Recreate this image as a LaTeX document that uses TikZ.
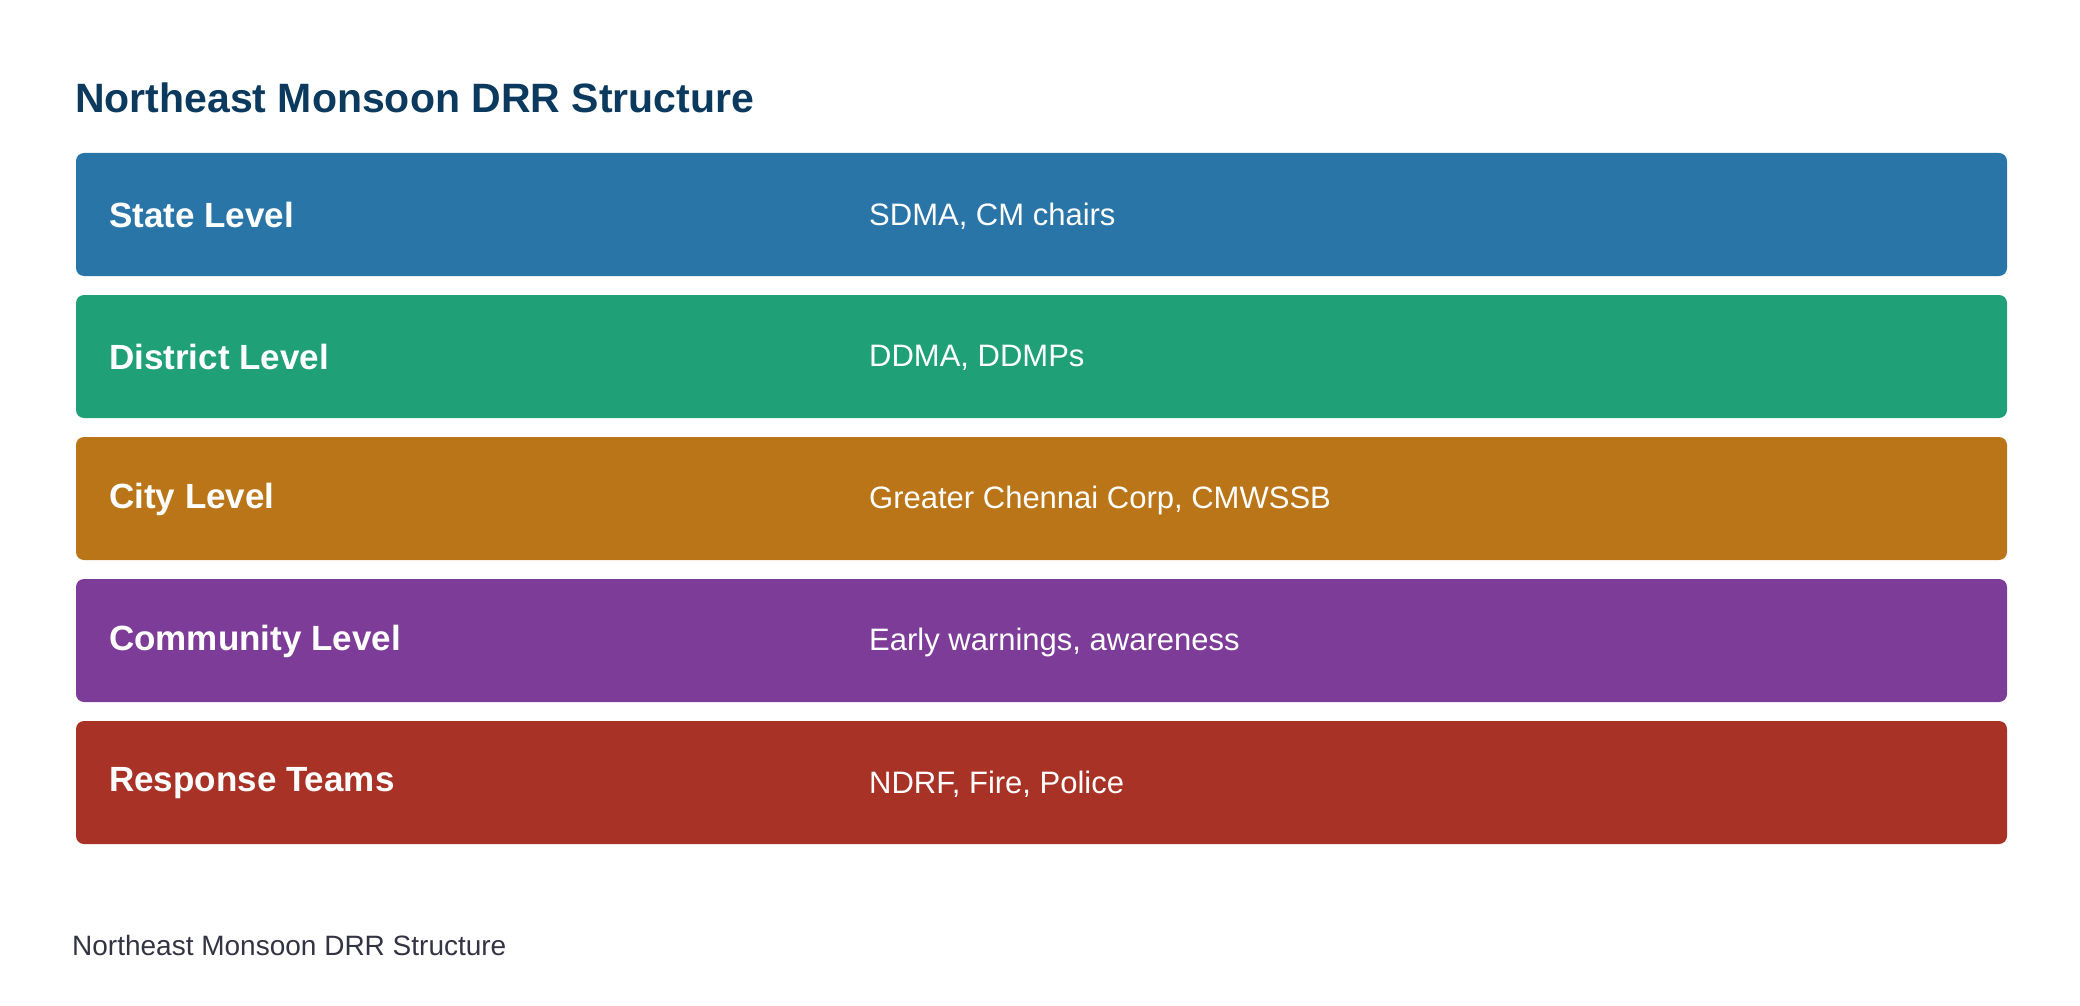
\documentclass[tikz,border=0pt]{standalone}
\usepackage{fontspec}
\setmainfont{Liberation Sans}
\definecolor{cA}{HTML}{2A75A8}
\definecolor{cB}{HTML}{1FA077}
\definecolor{cC}{HTML}{BA7518}
\definecolor{cD}{HTML}{7D3C98}
\definecolor{cE}{HTML}{A93226}
\definecolor{ttl}{HTML}{0B3A5E}
\definecolor{cap}{HTML}{333344}
\begin{document}
\begin{tikzpicture}[x=1pt,y=-1pt,
  bar/.style={rounded corners=8pt},
  lab/.style={anchor=west,text=white,font=\fontsize{35}{40}\selectfont\bfseries},
  desc/.style={anchor=west,text=white,font=\fontsize{31}{36}\selectfont}]
\useasboundingbox (0,0) rectangle (2080,1006);
\node[anchor=base west,text=ttl,font=\fontsize{41}{48}\selectfont\bfseries,inner sep=0] (title) at (75,113) {Northeast Monsoon DRR Structure};
\foreach \n/\c/\t/\l/\d in {1/cA/153/State Level/{SDMA, CM chairs},2/cB/295/District Level/{DDMA, DDMPs},3/cC/437/City Level/{Greater Chennai Corp, CMWSSB},4/cD/579/Community Level/{Early warnings, awareness},5/cE/721/Response Teams/{NDRF, Fire, Police}}{
  \fill[bar,\c] (76,\t) rectangle (2007,\t+123);
  \node[lab,inner sep=0] (l\n) at (109,\t+62) {\l};
  \node[desc,inner sep=0] (d\n) at (869,\t+63) {\d};
}
\node[anchor=base west,text=cap,font=\fontsize{28}{32}\selectfont,inner sep=0] (caption) at (72,955) {Northeast Monsoon DRR Structure};
\end{tikzpicture}
\end{document}
